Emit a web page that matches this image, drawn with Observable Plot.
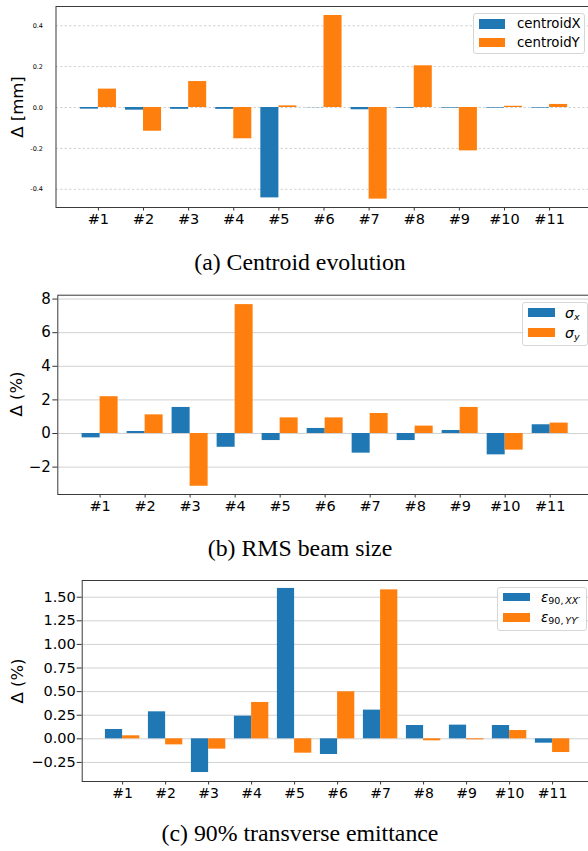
<!DOCTYPE html>
<html>
<head>
<meta charset="utf-8">
<script src="https://cdn.jsdelivr.net/npm/d3@7"></script>
<script src="https://cdn.jsdelivr.net/npm/@observablehq/plot@0.6"></script>
<style>
  html, body { margin: 0; padding: 0; background: #fff; }
  #root { position: relative; width: 588px; height: 851px; overflow: hidden; background: #fff; font-family: "DejaVu Sans", sans-serif; }
  .panel { position: absolute; left: 0; width: 600px; }
  .panel svg { max-width: none !important; }
  .ylab { position: absolute; font-family: "DejaVu Sans", sans-serif; font-size: 16.5px; color: #000; white-space: nowrap; transform: translate(-50%, -50%) rotate(-90deg); }
  .cap { position: absolute; left: 0; width: 600px; text-align: center; font-family: "Liberation Serif", "Times New Roman", serif; font-size: 23.8px; color: #000; line-height: 1; }
  .leg { position: absolute; border: 1px solid #d6d6d6; border-radius: 3px; background: rgba(255,255,255,0.85); box-sizing: border-box; }
  .sw { position: absolute; }
  .lt { position: absolute; white-space: nowrap; color: #000; }
</style>
</head>
<body>
<div id="root"></div>
<script>
// ---- data ----
const cats = ["#1", "#2", "#3", "#4", "#5", "#6", "#7", "#8", "#9", "#10", "#11"];

const centroidX = [-0.008, -0.013, -0.009, -0.009, -0.442, -0.001, -0.011, -0.004, -0.003, -0.003, -0.003];
const centroidY = [0.090, -0.116, 0.127, -0.153, 0.008, 0.450, -0.448, 0.204, -0.212, 0.006, 0.015];

const sigmaX = [-0.26, 0.12, 1.55, -0.82, -0.42, 0.30, -1.17, -0.42, 0.18, -1.27, 0.52];
const sigmaY = [2.19, 1.11, -3.14, 7.67, 0.93, 0.93, 1.19, 0.44, 1.55, -0.99, 0.62];

const epsXX = [0.099, 0.286, -0.357, 0.240, 1.593, -0.166, 0.304, 0.141, 0.145, 0.141, -0.046];
const epsYY = [0.032, -0.064, -0.109, 0.385, -0.152, 0.498, 1.578, -0.021, -0.011, 0.088, -0.145];

const yTicks1 = [-0.4, -0.2, 0.0, 0.2, 0.4];
const yTicks2 = [-2, 0, 2, 4, 6, 8];
const yTicks3 = [-0.25, 0.0, 0.25, 0.5, 0.75, 1.0, 1.25, 1.5];

const BLUE = "#1f77b4", ORANGE = "#ff7f0e";

function rows(vals) { return vals.map((v, i) => ({ i, v, cat: cats[i] })); }

function panel(o) {
  const A = rows(o.a), B = rows(o.b);
  return Plot.plot({
    width: 600,
    height: o.height,
    marginLeft: o.ml,
    marginRight: o.mr,
    marginTop: o.mt,
    marginBottom: o.mb,
    style: { fontFamily: "DejaVu Sans, sans-serif", background: "transparent", color: "#000", maxWidth: "none" },
    x: { type: "linear", domain: [-0.94, 10.94] },
    y: { domain: o.yDomain },
    marks: [
      Plot.gridY(o.yTicks, { stroke: o.gridColor, strokeOpacity: 1, strokeWidth: o.gridWidth, strokeDasharray: o.dash }),
      Plot.rect(A, { x1: d => d.i - 0.4, x2: d => d.i, y1: 0, y2: "v", fill: BLUE }),
      Plot.rect(B, { x1: d => d.i, x2: d => d.i + 0.4, y1: 0, y2: "v", fill: ORANGE }),
      Plot.axisX(d3.range(cats.length), {
        tickFormat: i => cats[i], tickSize: 3.5, tickPadding: 3, fontSize: o.xfs, label: null, stroke: "#333"
      }),
      Plot.axisY(o.yTicks, {
        tickFormat: o.fmt, tickSize: o.yts, tickPadding: o.ytp, fontSize: o.yfs, label: null, stroke: "#333"
      }),
      Plot.frame({ stroke: "#3a3a3a", strokeWidth: 1 })
    ]
  });
}

const root = document.getElementById("root");

function place(node, top) {
  const d = document.createElement("div");
  d.className = "panel";
  d.style.top = top + "px";
  d.appendChild(node);
  root.appendChild(d);
}

function ylabel(text, x, y) {
  const d = document.createElement("div");
  d.className = "ylab";
  d.style.left = x + "px";
  d.style.top = y + "px";
  d.textContent = text;
  root.appendChild(d);
}

function caption(text, top) {
  const d = document.createElement("div");
  d.className = "cap";
  d.style.top = top + "px";
  d.textContent = text;
  root.appendChild(d);
}

function legend(box, items) {
  const L = document.createElement("div");
  L.className = "leg";
  L.style.left = box.left + "px";
  L.style.top = box.top + "px";
  L.style.width = box.w + "px";
  L.style.height = box.h + "px";
  items.forEach(it => {
    const s = document.createElement("div");
    s.className = "sw";
    s.style.left = box.swl + "px";
    s.style.top = it.swt + "px";
    s.style.width = box.sww + "px";
    s.style.height = box.swh + "px";
    s.style.background = it.color;
    L.appendChild(s);
    const t = document.createElement("div");
    t.className = "lt";
    t.style.left = box.tl + "px";
    t.style.top = (it.tc - 10) + "px";
    t.style.height = "20px";
    t.style.lineHeight = "20px";
    t.style.fontSize = box.fs + "px";
    t.style.fontFamily = box.ff;
    t.innerHTML = it.html;
    L.appendChild(t);
  });
  root.appendChild(L);
}

const hy1 = d => d.toFixed(1);
const minus = s => s.replace("-", "\u2212");

// ---- Panel (a) ----
place(panel({
  a: centroidX, b: centroidY, height: 229, ml: 55.5, mr: 8.5, mt: 6, mb: 22,
  yDomain: [-0.489, 0.494], yTicks: yTicks1, fmt: hy1,
  gridColor: "#c8c8c8", gridWidth: 0.8, dash: "2.5,2",
  xfs: 14.5, yfs: 6.5, yts: 0, ytp: 13
}), 0);
ylabel("\u0394 [mm]", 17, 107);
legend({ left: 473, top: 13, w: 112, h: 41, swl: 5, sww: 26, swh: 9.5, tl: 43, fs: 13.3, ff: "DejaVu Sans, sans-serif" }, [
  { color: BLUE, swt: 5, tc: 10, html: "centroidX" },
  { color: ORANGE, swt: 23.5, tc: 28.5, html: "centroidY" }
]);
caption("(a) Centroid evolution", 251);

// ---- Panel (b) ----
place(panel({
  a: sigmaX, b: sigmaY, height: 236, ml: 57.3, mr: 8, mt: 14.7, mb: 22,
  yDomain: [-3.63, 8.23], yTicks: yTicks2, fmt: d => minus(String(d)),
  gridColor: "#d2d2d2", gridWidth: 1, dash: null,
  xfs: 14.5, yfs: 15, yts: 5, ytp: 2
}), 280);
ylabel("\u0394 (%)", 15.5, 394);
legend({ left: 522, top: 302, w: 66, h: 44, swl: 5, sww: 26.5, swh: 8.5, tl: 42, fs: 14, ff: "DejaVu Sans, sans-serif" }, [
  { color: BLUE, swt: 5.3, tc: 9.5, html: "<i>\u03c3</i><sub style='font-size:9.5px;vertical-align:-2px'><i>x</i></sub>" },
  { color: ORANGE, swt: 25.3, tc: 29.5, html: "<i>\u03c3</i><sub style='font-size:9.5px;vertical-align:-2px'><i>y</i></sub>" }
]);
caption("(b) RMS beam size", 537);

// ---- Panel (c) ----
place(panel({
  a: epsXX, b: epsYY, height: 233, ml: 81.7, mr: 7.5, mt: 10, mb: 22,
  yDomain: [-0.452, 1.677], yTicks: yTicks3, fmt: d => minus(d.toFixed(2)),
  gridColor: "#d2d2d2", gridWidth: 1, dash: null,
  xfs: 14, yfs: 14.5, yts: 5, ytp: 1.5
}), 570);
ylabel("\u0394 (%)", 17, 680.5);
legend({ left: 497, top: 587, w: 90, h: 43.5, swl: 5, sww: 26.7, swh: 8.6, tl: 43, fs: 13.5, ff: "DejaVu Sans, sans-serif" }, [
  { color: BLUE, swt: 4.7, tc: 9, html: "<i>\u03b5</i><sub style='font-size:9.5px;vertical-align:-2px'>90,&thinsp;<i>XX\u2032</i></sub>" },
  { color: ORANGE, swt: 25, tc: 29.3, html: "<i>\u03b5</i><sub style='font-size:9.5px;vertical-align:-2px'>90,&thinsp;<i>YY\u2032</i></sub>" }
]);
caption("(c) 90% transverse emittance", 822);
</script>
</body>
</html>
